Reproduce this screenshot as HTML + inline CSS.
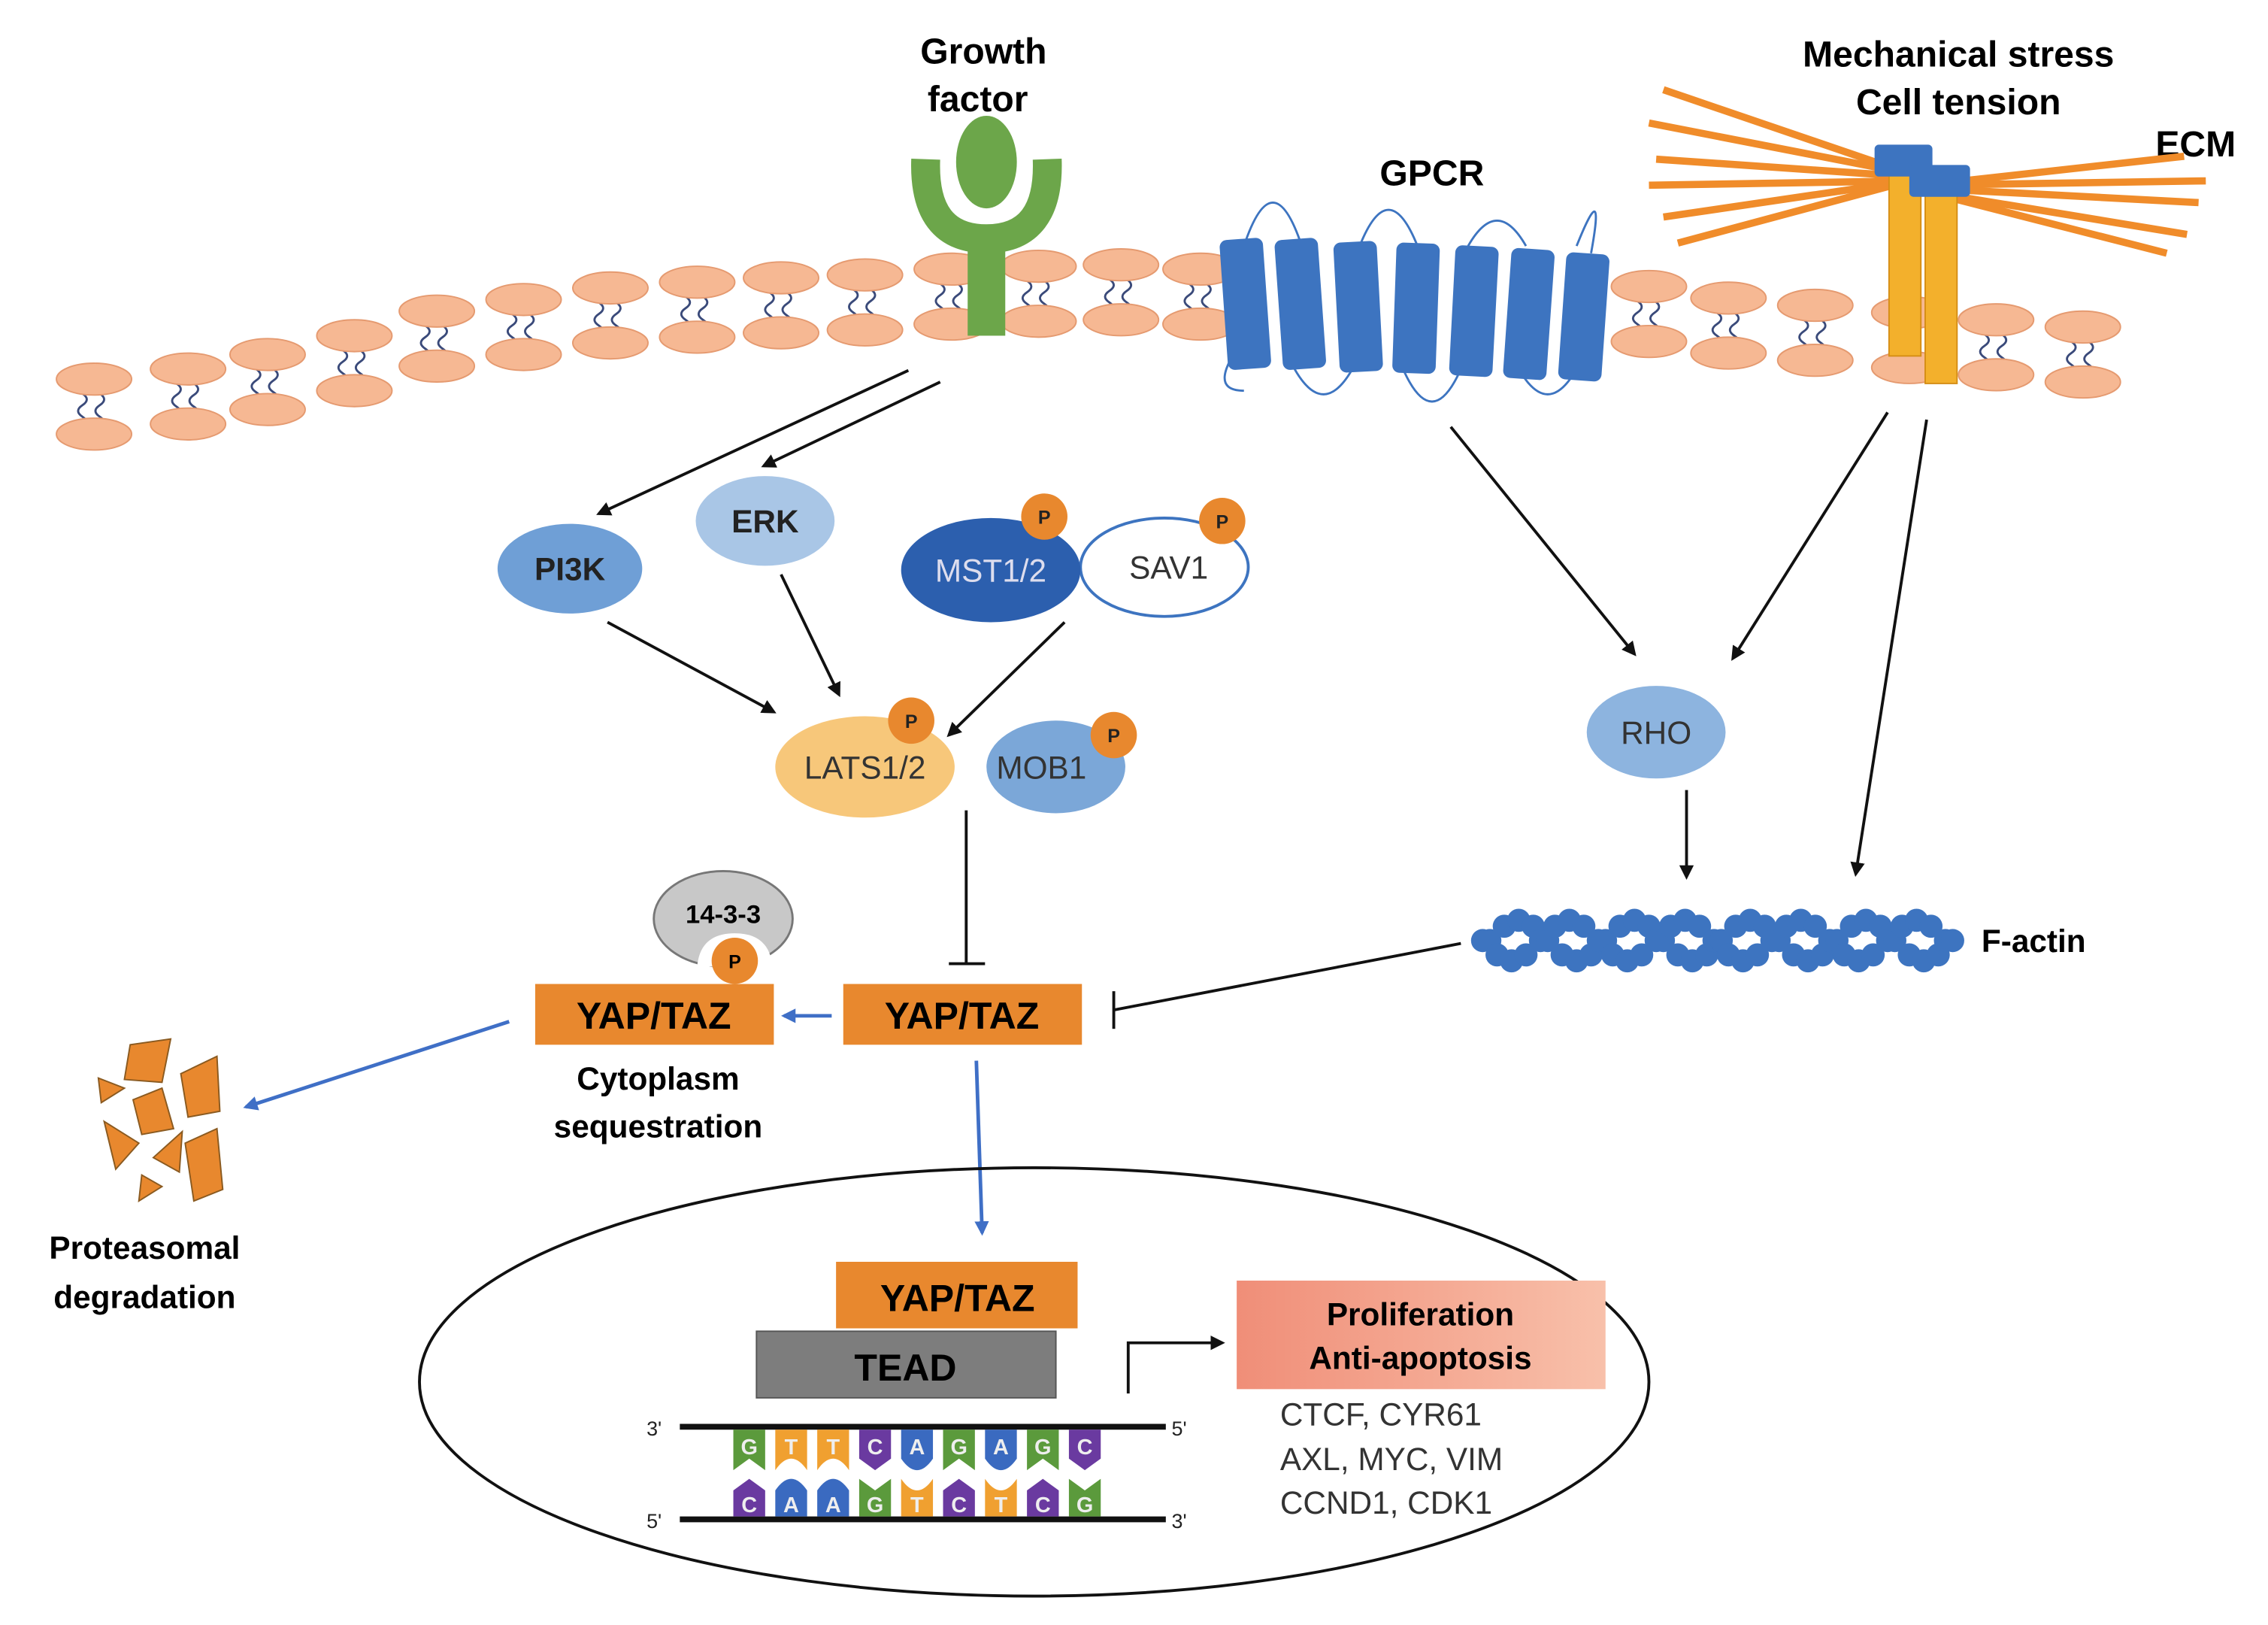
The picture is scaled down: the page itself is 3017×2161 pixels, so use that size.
<!DOCTYPE html>
<html><head><meta charset="utf-8">
<style>
html,body{margin:0;padding:0;background:#fff;}
svg{display:block;}
text{font-family:"Liberation Sans",sans-serif;}
.b{font-weight:bold;}
</style></head>
<body>
<svg id="s" width="3017" height="2161" viewBox="0 0 1568 1123" preserveAspectRatio="none" xmlns="http://www.w3.org/2000/svg">
<defs>
<marker id="ak" markerWidth="10" markerHeight="10" refX="8" refY="5" orient="auto" markerUnits="userSpaceOnUse"><path d="M0,0 L10,5 L0,10 z" fill="#111"/></marker>
<marker id="ab" markerWidth="10" markerHeight="10" refX="8" refY="5" orient="auto" markerUnits="userSpaceOnUse"><path d="M0,0 L10,5 L0,10 z" fill="#3f6fc6"/></marker>
<linearGradient id="pg" x1="0" y1="0" x2="1" y2="0"><stop offset="0" stop-color="#f08e78"/><stop offset="1" stop-color="#f8c0aa"/></linearGradient>
</defs>
<g id="mem"></g>

<!-- Growth factor receptor -->
<text x="680" y="44" font-size="25" class="b" text-anchor="middle">Growth</text>
<text x="676" y="77" font-size="25" class="b" text-anchor="middle">factor</text>
<rect x="669" y="160" width="26" height="72" fill="#6ca64a"/>
<path d="M640,110 Q638,165 682,165 Q726,165 724,110" fill="none" stroke="#6ca64a" stroke-width="20"/>
<ellipse cx="682" cy="112" rx="21" ry="32" fill="#6ca64a"/>

<!-- GPCR -->
<text x="990" y="128" font-size="25" class="b" text-anchor="middle">GPCR</text>
<g fill="none" stroke="#3d74c0" stroke-width="1.5">
<path d="M860,170 Q880,110 900,170"/><path d="M940,170 Q960,120 980,170"/><path d="M1015,170 Q1035,135 1055,170"/><path d="M1090,170 Q1110,120 1100,175"/>
<path d="M895,255 Q915,290 935,255"/><path d="M970,255 Q990,300 1010,255"/><path d="M1050,255 Q1070,290 1090,255"/><path d="M850,250 Q840,270 860,270"/>
</g>
<g fill="#3d74c0">
<rect x="846" y="165" width="30" height="90" rx="5" transform="rotate(-4 861 210)"/>
<rect x="884" y="165" width="30" height="90" rx="5" transform="rotate(-4 899 210)"/>
<rect x="924" y="167" width="30" height="90" rx="5" transform="rotate(-3 939 212)"/>
<rect x="964" y="168" width="30" height="90" rx="5" transform="rotate(2 979 213)"/>
<rect x="1004" y="170" width="30" height="90" rx="5" transform="rotate(3 1019 215)"/>
<rect x="1042" y="172" width="30" height="90" rx="5" transform="rotate(4 1057 217)"/>
<rect x="1080" y="175" width="30" height="88" rx="5" transform="rotate(4 1095 219)"/>
</g>

<!-- ECM -->
<text x="1354" y="46" font-size="25" class="b" text-anchor="middle">Mechanical stress</text>
<text x="1354" y="79" font-size="25" class="b" text-anchor="middle">Cell tension</text>
<text x="1518" y="108" font-size="25" class="b" text-anchor="middle">ECM</text>
<g stroke="#f08c2a" stroke-width="5">
<line x1="1320" y1="120" x2="1150" y2="62"/><line x1="1320" y1="120" x2="1140" y2="85"/><line x1="1320" y1="122" x2="1145" y2="110"/>
<line x1="1320" y1="125" x2="1140" y2="128"/><line x1="1320" y1="125" x2="1150" y2="150"/><line x1="1320" y1="125" x2="1160" y2="168"/>
<line x1="1330" y1="128" x2="1510" y2="108"/><line x1="1330" y1="128" x2="1525" y2="125"/><line x1="1330" y1="130" x2="1520" y2="140"/>
<line x1="1330" y1="132" x2="1512" y2="162"/><line x1="1330" y1="132" x2="1498" y2="175"/>
</g>
<rect x="1306" y="118" width="22" height="128" fill="#f3b02c" stroke="#d58e16"/>
<rect x="1331" y="128" width="22" height="137" fill="#f3b02c" stroke="#d58e16"/>
<rect x="1296" y="100" width="40" height="22" rx="3" fill="#3d74c0"/>
<rect x="1320" y="114" width="42" height="22" rx="3" fill="#3d74c0"/>

<!-- arrows top -->
<g stroke="#111" stroke-width="2" fill="none" marker-end="url(#ak)">
<line x1="628" y1="256" x2="414" y2="355"/>
<line x1="650" y1="264" x2="528" y2="322"/>
<line x1="420" y1="430" x2="535" y2="492"/>
<line x1="540" y1="397" x2="580" y2="480"/>
<line x1="736" y1="430" x2="656" y2="508"/>
<line x1="1003" y1="295" x2="1130" y2="452"/>
<line x1="1305" y1="285" x2="1198" y2="455"/>
<line x1="1332" y1="290" x2="1283" y2="604"/>
<line x1="1166" y1="546" x2="1166" y2="606"/>
</g>

<!-- kinases -->
<ellipse cx="394" cy="393" rx="50" ry="31" fill="#6f9fd6"/>
<text x="394" y="401" font-size="22" class="b" text-anchor="middle" fill="#222">PI3K</text>
<ellipse cx="529" cy="360" rx="48" ry="31" fill="#a9c6e6"/>
<text x="529" y="368" font-size="22" class="b" text-anchor="middle" fill="#222">ERK</text>
<ellipse cx="805" cy="392" rx="58" ry="34" fill="#fff" stroke="#3d74c0" stroke-width="2"/>
<text x="808" y="400" font-size="22" text-anchor="middle" fill="#333">SAV1</text>
<ellipse cx="685" cy="394" rx="62" ry="36" fill="#2c5fae"/>
<text x="685" y="402" font-size="22" text-anchor="middle" fill="#dde">MST1/2</text>
<ellipse cx="598" cy="530" rx="62" ry="35" fill="#f7c77a"/>
<ellipse cx="730" cy="530" rx="48" ry="32" fill="#7ba7d8"/>
<text x="598" y="538" font-size="22" text-anchor="middle" fill="#333">LATS1/2</text>
<text x="720" y="538" font-size="22" text-anchor="middle" fill="#333">MOB1</text>
<ellipse cx="1145" cy="506" rx="48" ry="32" fill="#8db4df"/>
<text x="1145" y="514" font-size="22" text-anchor="middle" fill="#333">RHO</text>
<g font-size="13" class="b" text-anchor="middle" fill="#222">
<circle cx="722" cy="357" r="16" fill="#e8882e"/><text x="722" y="362">P</text>
<circle cx="845" cy="360" r="16" fill="#e8882e"/><text x="845" y="365">P</text>
<circle cx="630" cy="498" r="16" fill="#e8882e"/><text x="630" y="503">P</text>
<circle cx="770" cy="508" r="16" fill="#e8882e"/><text x="770" y="513">P</text>
</g>

<!-- inhibitions -->
<g stroke="#111" stroke-width="2">
<line x1="668" y1="560" x2="668" y2="666"/><line x1="656" y1="666" x2="681" y2="666"/>
<line x1="1010" y1="652" x2="770" y2="698"/><line x1="770" y1="685" x2="770" y2="711"/>
</g>

<!-- F-actin -->
<g id="actin" fill="#3d74c0"></g>
<text x="1406" y="658" font-size="22" class="b" text-anchor="middle">F-actin</text>

<!-- YAP/TAZ cytoplasm -->
<ellipse cx="500" cy="635" rx="48" ry="33" fill="#c8c8c8" stroke="#777" stroke-width="1.5"/>
<text x="500" y="638" font-size="18" class="b" text-anchor="middle">14-3-3</text>
<path d="M482,668 Q484,645 508,645 Q532,645 534,668" fill="#fff"/>
<circle cx="508" cy="664" r="16" fill="#e8882e"/><text x="508" y="669" font-size="13" class="b" text-anchor="middle">P</text>
<rect x="370" y="680" width="165" height="42" fill="#e8882e"/>
<text x="452" y="711" font-size="26" class="b" text-anchor="middle">YAP/TAZ</text>
<rect x="583" y="680" width="165" height="42" fill="#e8882e"/>
<text x="665" y="711" font-size="26" class="b" text-anchor="middle">YAP/TAZ</text>
<text x="455" y="753" font-size="22" class="b" text-anchor="middle">Cytoplasm</text>
<text x="455" y="786" font-size="22" class="b" text-anchor="middle">sequestration</text>
<g stroke="#3f6fc6" stroke-width="2.5" marker-end="url(#ab)">
<line x1="575" y1="702" x2="542" y2="702"/>
<line x1="352" y1="706" x2="170" y2="765"/>
<line x1="675" y1="733" x2="679" y2="852"/>
</g>

<!-- debris -->
<g fill="#e8882e" stroke="#8a5a20" stroke-width="1">
<polygon points="90,722 118,718 112,748 86,746"/>
<polygon points="125,742 150,730 152,768 130,772"/>
<polygon points="68,745 86,752 70,762"/>
<polygon points="92,760 112,752 120,780 98,784"/>
<polygon points="72,775 96,790 80,808"/>
<polygon points="106,800 126,782 124,810"/>
<polygon points="128,790 150,780 154,822 134,830"/>
<polygon points="98,812 112,820 96,830"/>
</g>
<text x="100" y="870" font-size="22" class="b" text-anchor="middle">Proteasomal</text>
<text x="100" y="904" font-size="22" class="b" text-anchor="middle">degradation</text>

<!-- nucleus -->
<ellipse cx="715" cy="955" rx="425" ry="148" fill="none" stroke="#111" stroke-width="2"/>
<rect x="578" y="872" width="167" height="46" fill="#e8882e"/>
<text x="662" y="906" font-size="26" class="b" text-anchor="middle">YAP/TAZ</text>
<rect x="523" y="920" width="207" height="46" fill="#7d7d7d" stroke="#555"/>
<text x="626" y="954" font-size="26" class="b" text-anchor="middle">TEAD</text>
<line x1="470" y1="986" x2="806" y2="986" stroke="#111" stroke-width="4"/>
<line x1="470" y1="1050" x2="806" y2="1050" stroke="#111" stroke-width="4"/>
<g font-size="14" fill="#222"><text x="447" y="992">3'</text><text x="810" y="992">5'</text><text x="447" y="1056">5'</text><text x="810" y="1056">3'</text></g>
<g id="dna"></g>
<polyline points="780,963 780,928 845,928" fill="none" stroke="#111" stroke-width="2" marker-end="url(#ak)"/>
<rect x="855" y="885" width="255" height="75" fill="url(#pg)"/>
<text x="982" y="916" font-size="22" class="b" text-anchor="middle">Proliferation</text>
<text x="982" y="946" font-size="22" class="b" text-anchor="middle">Anti-apoptosis</text>
<g font-size="22" fill="#333"><text x="885" y="985">CTCF, CYR61</text><text x="885" y="1016">AXL, MYC, VIM</text><text x="885" y="1046">CCND1, CDK1</text></g>
</svg>
<script>
var NS="http://www.w3.org/2000/svg";
function el(t,a,p){var e=document.createElementNS(NS,t);for(var k in a)e.setAttribute(k,a[k]);p.appendChild(e);return e;}
var pts=[[65,262],[130,255],[185,245],[245,232],[302,215],[362,207],[422,199],[482,195],[540,192],[598,190],[658,186],[718,184],[775,183],[830,186],[1140,198],[1195,206],[1255,211],[1320,216],[1380,221],[1440,226]];
var m=document.getElementById("mem");
pts.forEach(function(p){
 var x=p[0],y=p[1],y2=y+38;
 for(var k=0;k<2;k++){var xx=x-8+k*12;el("path",{d:"M"+xx+","+(y+10)+" q6,4 0,8 q-6,4 0,8 q6,4 0,8",fill:"none",stroke:"#3a4a7a","stroke-width":1.5},m);}
 el("ellipse",{cx:x,cy:y,rx:26,ry:11,fill:"#f6b893",stroke:"#e59a70","stroke-width":1},m);
 el("ellipse",{cx:x,cy:y2,rx:26,ry:11,fill:"#f6b893",stroke:"#e59a70","stroke-width":1},m);
});
var a=document.getElementById("actin");
for(var i=0;i<=32;i++){var x=1025+i*10;var ph=(i%8)/8*2*Math.PI;var off=14*Math.sin(ph);
 el("circle",{cx:x,cy:650+off,r:8},a);el("circle",{cx:x+5,cy:650-off,r:8},a);}
var d=document.getElementById("dna");
var seqT="GTTCAGAGC",seqB="CAAGTCTCG",col={G:"#5b9a3c",T:"#f0a030",C:"#6a3aa0",A:"#3a6ac0"};
// shape tip: dir=+1 pointing down (top strand), -1 pointing up
function base(x,y0,yEnd,b,dir){
 var w=11,h=8,p;
 var yt=yEnd; // tip baseline
 if(b=="A"){p="M"+(x-w)+","+y0+" L"+(x-w)+","+yt+" Q"+x+","+(yt+dir*2*h)+" "+(x+w)+","+yt+" L"+(x+w)+","+y0+" Z";}
 else if(b=="C"){p="M"+(x-w)+","+y0+" L"+(x-w)+","+yt+" L"+x+","+(yt+dir*h)+" L"+(x+w)+","+yt+" L"+(x+w)+","+y0+" Z";}
 else if(b=="T"){p="M"+(x-w)+","+y0+" L"+(x-w)+","+(yt+dir*h)+" Q"+x+","+(yt-dir*h)+" "+(x+w)+","+(yt+dir*h)+" L"+(x+w)+","+y0+" Z";}
 else {p="M"+(x-w)+","+y0+" L"+(x-w)+","+(yt+dir*h)+" L"+x+","+yt+" L"+(x+w)+","+(yt+dir*h)+" L"+(x+w)+","+y0+" Z";}
 el("path",{d:p,fill:col[b]},d);
}
for(var i=0;i<9;i++){var x=518+i*29;
 base(x,988,1008,seqT[i],1);
 var t=el("text",{x:x,y:1005,"font-size":15,"text-anchor":"middle",fill:"#eee","font-weight":"bold"},d);t.textContent=seqT[i];
 base(x,1048,1030,seqB[i],-1);
 var t2=el("text",{x:x,y:1045,"font-size":15,"text-anchor":"middle",fill:"#eee","font-weight":"bold"},d);t2.textContent=seqB[i];}
</script>
</body></html>
